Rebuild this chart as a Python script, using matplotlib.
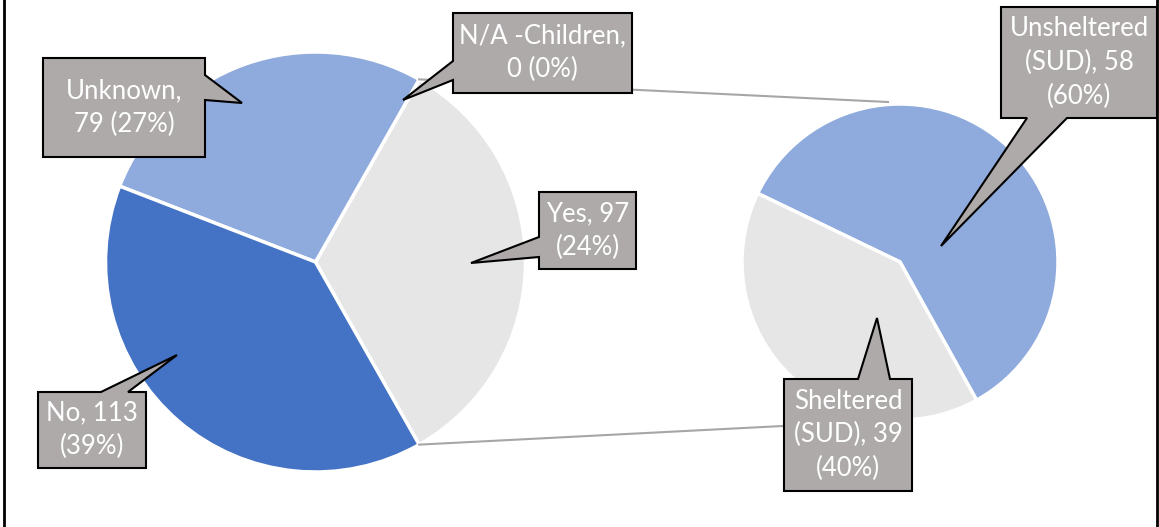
import numpy as np
import matplotlib.pyplot as plt
from matplotlib.patches import Polygon

# main pie
main_labels = ['Yes', 'N/A -Children', 'Unknown', 'No']
main_values = [97, 0, 79, 113]
main_texts = ['Yes, 97\n(24%)', 'N/A -Children,\n0 (0%)', 'Unknown,\n79 (27%)', 'No, 113\n(39%)']

# breakdown of "Yes"
sub_labels = ['Unsheltered (SUD)', 'Sheltered (SUD)']
sub_values = [58, 39]
sub_texts = ['Unsheltered\n(SUD), 58\n(60%)', 'Sheltered\n(SUD), 39\n(40%)']

main_colors = ['#E6E6E6', '#A5A5A5', '#8FAADC', '#4472C4']
sub_colors = ['#8FAADC', '#E6E6E6']
box_color = '#AEAAAA'

W, H = 1159, 527
fig = plt.figure(figsize=(W / 100, H / 100), dpi=100)
ax = fig.add_axes([0, 0, 1, 1])

def flip(x, y):
    return (x, H - y)

c1, r1 = flip(315.5, 262), 210
c2, r2 = flip(900, 262), 158

start1 = -180 * main_values[0] / sum(main_values)
w1, _ = ax.pie(main_values, colors=main_colors, startangle=start1, counterclock=True,
               center=c1, radius=r1, frame=True,
               wedgeprops=dict(edgecolor='white', linewidth=2.5))
w2, _ = ax.pie(sub_values, colors=sub_colors, startangle=-61, counterclock=True,
               center=c2, radius=r2, frame=True,
               wedgeprops=dict(edgecolor='white', linewidth=2.5))
ax.set_xlim(0, W)
ax.set_ylim(0, H)
ax.set_aspect('auto')
ax.axis('off')

# connector lines from the split slice to the secondary pie
yes = w1[0]
for ang, end in [(yes.theta2, (c2[0] - 12, c2[1] + r2 + 2)), (yes.theta1, (c2[0], c2[1] - r2))]:
    a = np.deg2rad(ang)
    p = (c1[0] + r1 * np.cos(a), c1[1] + r1 * np.sin(a))
    ax.plot([p[0], end[0]], [p[1], end[1]], color='#A6A6A6', lw=1.5, zorder=1)

# callout layout (image pixel coords, y down)
callouts = {
    'Unknown,\n79 (27%)': dict(box=(43, 58, 205, 157), side='right', base=(75, 100), tip=(242, 103)),
    'N/A -Children,\n0 (0%)': dict(box=(453, 13, 632, 93), side='left', base=(61, 80), tip=(403, 100)),
    'Yes, 97\n(24%)': dict(box=(539, 192, 636, 269), side='left', base=(237, 257), tip=(471, 263)),
    'No, 113\n(39%)': dict(box=(38, 392, 146, 468), side='top', base=(101, 128), tip=(177, 355)),
    'Unsheltered\n(SUD), 58\n(60%)': dict(box=(1001, 7, 1157, 118), side='bottom', base=(1027, 1067), tip=(941, 246)),
    'Sheltered\n(SUD), 39\n(40%)': dict(box=(784, 379, 912, 491), side='top', base=(858, 890), tip=(877, 318)),
}

def callout(text, box, side, base, tip):
    x0, y0, x1, y1 = box
    s1, s2 = base
    if side == 'right':
        pts = [(x0, y0), (x1, y0), (x1, s1), tip, (x1, s2), (x1, y1), (x0, y1)]
    elif side == 'left':
        pts = [(x0, y0), (x1, y0), (x1, y1), (x0, y1), (x0, s2), tip, (x0, s1)]
    elif side == 'top':
        pts = [(x0, y0), (s1, y0), tip, (s2, y0), (x1, y0), (x1, y1), (x0, y1)]
    else:
        pts = [(x0, y0), (x1, y0), (x1, y1), (s2, y1), tip, (s1, y1), (x0, y1)]
    pts = [flip(*p) for p in pts]
    ax.add_patch(Polygon(pts, closed=True, fc=box_color, ec='black', lw=1.5, zorder=5))
    cx, cy = flip((x0 + x1) / 2, (y0 + y1) / 2)
    ax.text(cx, cy, text, ha='center', va='center', color='white', fontsize=18.5,
            family='Lato', linespacing=1.42, zorder=6)

for t in main_texts + sub_texts:
    callout(t, **callouts[t])

# chart frame
ax.plot([4, 4], [0, H], color='black', lw=2, zorder=7)
ax.plot([W - 2, W - 2], [0, H], color='black', lw=2, zorder=7)

fig.savefig('out.png', dpi=100)
